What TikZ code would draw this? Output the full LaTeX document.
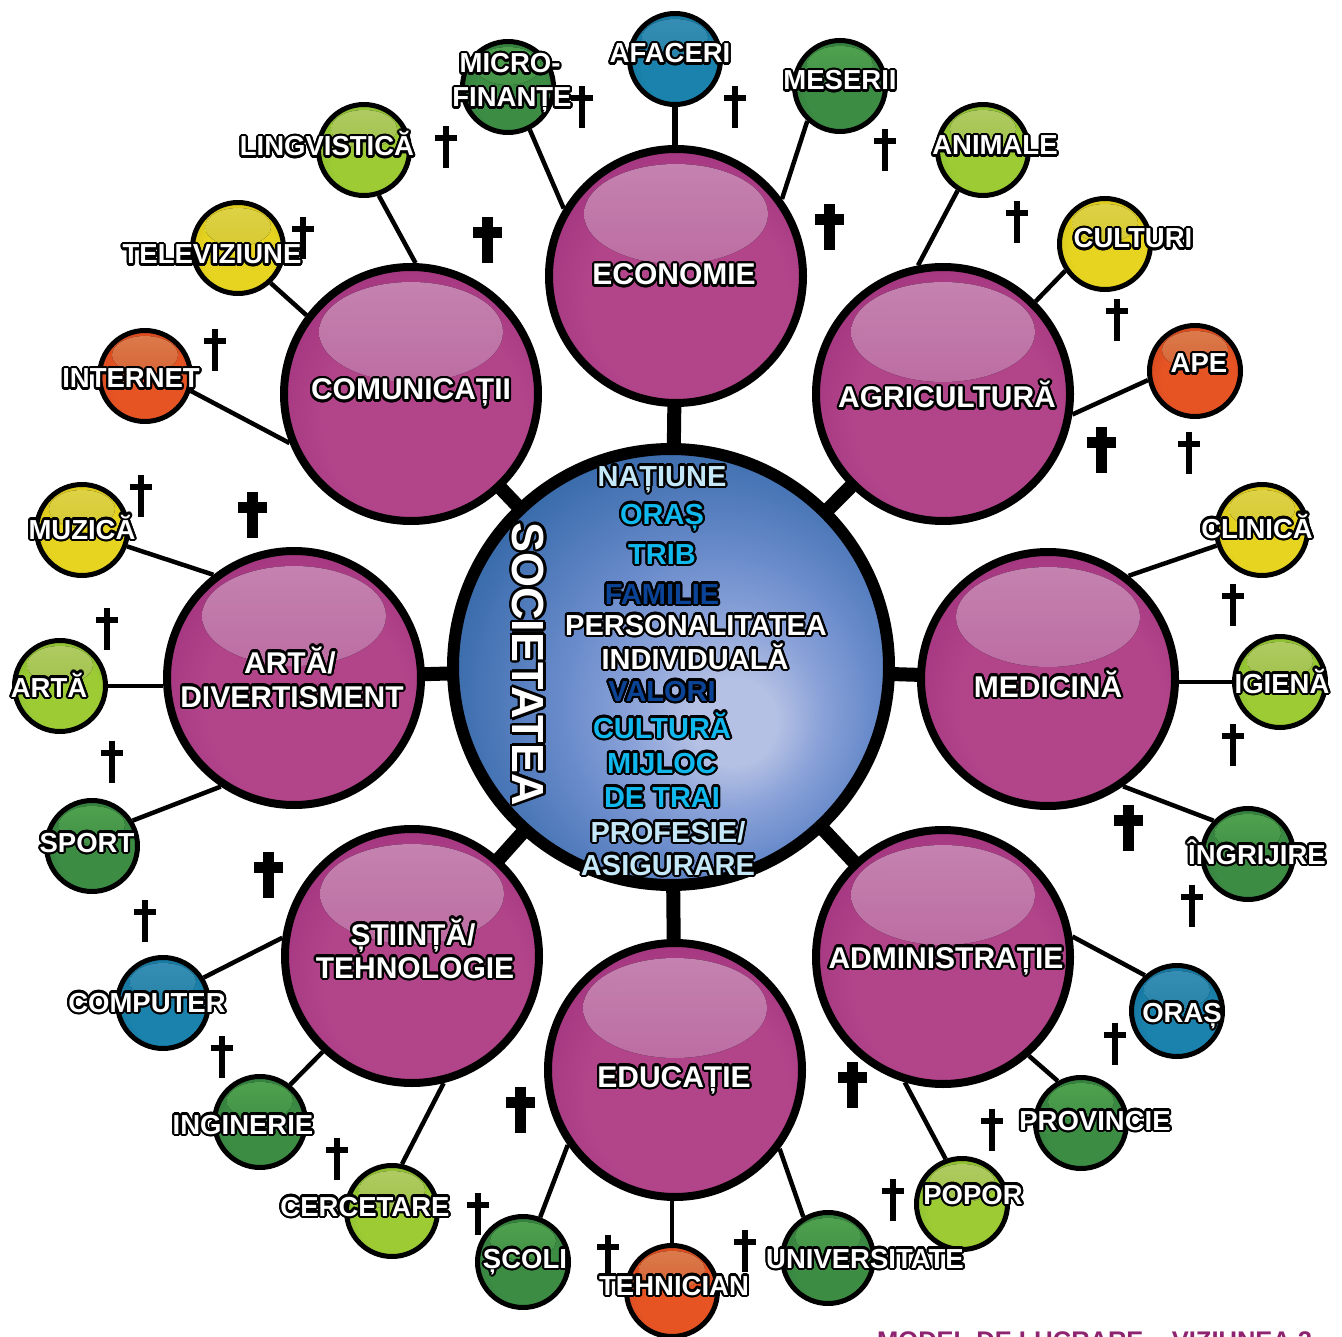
\documentclass[tikz,border=0pt]{standalone}
\usepackage{fontspec}
\setmainfont{Liberation Sans}
\usepackage[copies]{contour}
\contourlength{2.2pt}
\contournumber{20}
\usetikzlibrary{backgrounds}

\definecolor{pA}{HTML}{B2448A}
\definecolor{pB}{HTML}{982C78}
\definecolor{pC}{HTML}{6C1252}
\definecolor{pHi}{HTML}{DA94C4}
\definecolor{pLo}{HTML}{C2589E}
\definecolor{gA}{HTML}{3C8C44}
\definecolor{gB}{HTML}{2C7036}
\definecolor{gC}{HTML}{1C4C24}
\definecolor{gHi}{HTML}{58B458}
\definecolor{lA}{HTML}{9CCB34}
\definecolor{lB}{HTML}{7AB02E}
\definecolor{lC}{HTML}{3F8A2C}
\definecolor{lHi}{HTML}{C4E070}
\definecolor{yA}{HTML}{E6D420}
\definecolor{yB}{HTML}{D0BC18}
\definecolor{yC}{HTML}{8E7E10}
\definecolor{yHi}{HTML}{F4E850}
\definecolor{bA}{HTML}{1A82AC}
\definecolor{bB}{HTML}{146A90}
\definecolor{bC}{HTML}{0A3E5C}
\definecolor{bHi}{HTML}{3E9EC8}
\definecolor{rA}{HTML}{E65424}
\definecolor{rB}{HTML}{C8401A}
\definecolor{rC}{HTML}{7E2010}
\definecolor{rHi}{HTML}{F28A56}
\definecolor{hA}{HTML}{B4C0E4}
\definecolor{hB}{HTML}{8AA2D8}
\definecolor{hC}{HTML}{688ACA}
\definecolor{hD}{HTML}{4674B4}
\definecolor{hE}{HTML}{1C5692}
\definecolor{hF}{HTML}{0A3866}
\definecolor{cLb}{HTML}{C4E8F8}
\definecolor{cCy}{HTML}{10B8EE}
\definecolor{cDb}{HTML}{0B4496}
\definecolor{footc}{HTML}{8E2470}

\pgfdeclareradialshading{purpball}{\pgfpoint{4bp}{-8bp}}{color(0bp)=(pA); color(20bp)=(pA); color(36bp)=(pB); color(50bp)=(pC)}
\pgfdeclareradialshading{gball}{\pgfpoint{3bp}{-6bp}}{color(0bp)=(gA); color(20bp)=(gA); color(36bp)=(gB); color(50bp)=(gC)}
\pgfdeclareradialshading{lball}{\pgfpoint{3bp}{-6bp}}{color(0bp)=(lA); color(20bp)=(lA); color(36bp)=(lB); color(50bp)=(lC)}
\pgfdeclareradialshading{yball}{\pgfpoint{3bp}{-6bp}}{color(0bp)=(yA); color(20bp)=(yA); color(36bp)=(yB); color(50bp)=(yC)}
\pgfdeclareradialshading{bball}{\pgfpoint{3bp}{-6bp}}{color(0bp)=(bA); color(20bp)=(bA); color(36bp)=(bB); color(50bp)=(bC)}
\pgfdeclareradialshading{rball}{\pgfpoint{3bp}{-6bp}}{color(0bp)=(rA); color(20bp)=(rA); color(36bp)=(rB); color(50bp)=(rC)}
\pgfdeclareradialshading{hubball}{\pgfpoint{8bp}{-7bp}}{color(0bp)=(hA); color(5bp)=(hA); color(11bp)=(hB); color(18bp)=(hC); color(26bp)=(hD); color(36bp)=(hE); color(50bp)=(hF)}

\newcommand{\olt}[1]{\contour{black}{#1}}

\tikzset{
  hub/.style={circle, draw=black, line width=12pt, minimum size=436pt, inner sep=0pt, shading=hubball},
  sector/.style={circle, draw=black, line width=8pt, minimum size=254pt, inner sep=0pt, shading=purpball,
    path picture={\fill[top color=pHi, bottom color=pLo, fill opacity=.9] ([yshift=62pt]path picture bounding box.center) ellipse [x radius=92pt, y radius=50pt];}},
  leaf/.style={circle, draw=black, line width=5pt, minimum size=91pt, inner sep=0pt, shading=#1ball,
    path picture={\fill[top color=#1Hi, bottom color=#1A, fill opacity=.9] ([yshift=21pt]path picture bounding box.center) ellipse [x radius=33pt, y radius=19pt];}},
  bar/.style={line width=14pt, black},
  twig/.style={line width=4.5pt, black},
  leaflab/.style={anchor=base, text=white, inner sep=0pt, font=\fontsize{27.5}{30}\selectfont\bfseries},
  seclab/.style={anchor=base, text=white, inner sep=0pt, font=\fontsize{30}{31}\selectfont\bfseries},
  hublab/.style={anchor=base, text=#1, inner sep=0pt, font=\fontsize{29}{30}\selectfont\bfseries},
  sx/.pic={\fill[black] (-3,-21) rectangle (3,21); \fill[black] (-11,-12) rectangle (11,-6);},
  bx/.pic={\fill[black] (-5.5,-23) rectangle (5.5,23); \fill[black] (-14.5,-13) rectangle (14.5,-2);}
}

\begin{document}
\begin{tikzpicture}[x=1pt,y=-1pt]
\useasboundingbox (0,0) rectangle (1342,1337);

% central hub
\node[hub] (hub) at (671,667) {};

% sectors
\node[sector] (econ) at (676,276) {};
\node[sector] (agri) at (943,394) {};
\node[sector] (medi) at (1048,679) {};
\node[sector] (admi) at (943,957) {};
\node[sector] (educ) at (675,1070) {};
\node[sector] (stii) at (412,956) {};
\node[sector] (arta) at (294,678) {};
\node[sector] (comu) at (411,394) {};

% leaves
\node[leaf=g] (micro) at (508,87) {};
\node[leaf=b] (afac) at (675,59) {};
\node[leaf=g] (mese) at (840,86) {};
\node[leaf=l] (anim) at (983,150) {};
\node[leaf=y] (cult) at (1105,244) {};
\node[leaf=r] (ape) at (1195,371) {};
\node[leaf=y] (clin) at (1262,530) {};
\node[leaf=l] (igie) at (1280,682) {};
\node[leaf=g] (ingr) at (1248,854) {};
\node[leaf=b] (oras) at (1177,1011) {};
\node[leaf=g] (prov) at (1081,1123) {};
\node[leaf=l] (popo) at (962,1204) {};
\node[leaf=g] (univ) at (828,1258) {};
\node[leaf=r] (tehn) at (672,1291) {};
\node[leaf=g] (scol) at (523,1262) {};
\node[leaf=l] (cerc) at (392,1211) {};
\node[leaf=g] (ingi) at (260,1122) {};
\node[leaf=b] (comp) at (163,1003) {};
\node[leaf=g] (spor) at (92,846) {};
\node[leaf=l] (arts) at (60,686) {};
\node[leaf=y] (muzi) at (82,530) {};
\node[leaf=r] (inte) at (145,376) {};
\node[leaf=y] (tele) at (238,248) {};
\node[leaf=l] (ling) at (364,150) {};

% connectors
\begin{scope}[on background layer]
  \fill[white] (0,0) rectangle (1342,1337);
  \foreach \s in {econ,agri,medi,admi,educ,stii,arta,comu}
    \draw[bar] (hub.center) -- (\s.center);
  \draw[twig] (micro.-63) -- (econ.149);
  \draw[twig, line width=6pt] (afac.-90) -- (afac.-90 |- econ.north);
  \draw[twig] (mese.-133) -- (econ.36);
  \draw[twig] (anim.-122) -- (agri.101);
  \draw[twig] (cult.-146) -- (agri.45);
  \draw[twig] (ape.-169) -- (agri.-9);
  \draw[twig] (clin.-161) -- (medi.52);
  \draw[twig] (igie.west) -- (igie.west -| medi.east);
  \draw[twig] (ingr.136) -- (medi.-55);
  \draw[twig] (oras.132) -- (admi.9);
  \draw[twig] (prov.119) -- (admi.-49);
  \draw[twig] (popo.110) -- (admi.-107);
  \draw[twig] (univ.121) -- (educ.-37);
  \draw[twig] (tehn.north) -- (tehn.north |- educ.south);
  \draw[twig] (scol.69) -- (educ.-145);
  \draw[twig] (cerc.78) -- (stii.-76);
  \draw[twig] (ingi.51) -- (stii.-133);
  \draw[twig] (comp.32) -- (stii.172);
  \draw[twig] (muzi.-20) -- (arta.128);
  \draw[twig] (arts.east) -- (arts.east -| arta.west);
  \draw[twig] (spor.32) -- (arta.-124);
  \draw[twig] (ling.-72) -- (comu.88);
  \draw[twig] (tele.-47) -- (comu.143);
  \draw[twig] (inte.-18) -- (comu.-158);
\end{scope}

% crosses
\foreach \p in {(446,147),(303,238),(215,350),(582,107),(735,107),(885,150),(1017,222),(1117,320),(1189,453),(141,496),(107,629),(112,762),(1233,605),(1233,745),(1192,906),(145,921),(222,1057),(337,1159),(478,1214),(608,1256),(745,1251),(893,1200),(992,1130),(1115,1044)}
  \pic at \p {sx};
\foreach \p in {(487,240),(829,227),(1101,450),(252,515),(1128,828),(268,875),(520,1110),(852,1085)}
  \pic at \p {bx};

% hub labels
\node[hublab=cLb] (h1) at (662,486) {\olt{NAȚIUNE}};
\node[hublab=cCy] (h2) at (662,524) {\olt{ORAȘ}};
\node[hublab=cCy] (h3) at (662,564) {\olt{TRIB}};
\node[hublab=cDb] (h4) at (662,604) {\olt{FAMILIE}};
\node[hublab=white] (h5) at (696,635) {\olt{PERSONALITATEA}};
\node[hublab=white] (h6) at (695,669) {\olt{INDIVIDUALĂ}};
\node[hublab=cDb] (h7) at (662,701) {\olt{VALORI}};
\node[hublab=cCy] (h8) at (662,738) {\olt{CULTURĂ}};
\node[hublab=cCy] (h9) at (662,773) {\olt{MIJLOC}};
\node[hublab=cCy] (h10) at (662,807) {\olt{DE TRAI}};
\node[hublab=cLb] (h11) at (668,842) {\olt{PROFESIE/}};
\node[hublab=cLb] (h12) at (668,875) {\olt{ASIGURARE}};
\node[text=white, inner sep=0pt, rotate=-90, font=\fontsize{45}{46}\selectfont\bfseries] (soc) at (527,664) {\contourlength{2.6pt}\olt{SOCIETATEA}};

% sector labels
\node[seclab] (t-econ) at (674,285) {\olt{ECONOMIE}};
\node[seclab] (t-agri) at (947,408) {\olt{AGRICULTURĂ}};
\node[seclab] (t-medi) at (1048,697) {\olt{MEDICINĂ}};
\node[seclab] (t-admi) at (946,968) {\olt{ADMINISTRAȚIE}};
\node[seclab] (t-educ) at (674,1087) {\olt{EDUCAȚIE}};
\node[seclab] (t-stii1) at (413,945) {\olt{ȘTIINȚĂ/}};
\node[seclab] (t-stii2) at (415,978) {\olt{TEHNOLOGIE}};
\node[seclab] (t-arta1) at (290,673) {\olt{ARTĂ/}};
\node[seclab] (t-arta2) at (292,707) {\olt{DIVERTISMENT}};
\node[seclab] (t-comu) at (411,400) {\olt{COMUNICAȚII}};

% leaf labels
\node[leaflab] (t-micro1) at (510,73) {\olt{MICRO-}};
\node[leaflab] (t-micro2) at (512,107) {\olt{FINANȚE}};
\node[leaflab] (t-afac) at (670,63) {\olt{AFACERI}};
\node[leaflab] (t-mese) at (840,90) {\olt{MESERII}};
\node[leaflab] (t-anim) at (995,155) {\olt{ANIMALE}};
\node[leaflab] (t-cult) at (1133,248) {\olt{CULTURI}};
\node[leaflab] (t-ape) at (1199,373) {\olt{APE}};
\node[leaflab] (t-clin) at (1257,538) {\olt{CLINICĂ}};
\node[leaflab] (t-igie) at (1282,693) {\olt{IGIENĂ}};
\node[leaflab] (t-ingr) at (1257,864) {\olt{ÎNGRIJIRE}};
\node[leaflab] (t-oras) at (1182,1022) {\olt{ORAȘ}};
\node[leaflab] (t-prov) at (1095,1130) {\olt{PROVINCIE}};
\node[leaflab] (t-popo) at (973,1204) {\olt{POPOR}};
\node[leaflab] (t-univ) at (865,1268) {\olt{UNIVERSITATE}};
\node[leaflab] (t-tehn) at (674,1295) {\olt{TEHNICIAN}};
\node[leaflab] (t-scol) at (525,1268) {\olt{ȘCOLI}};
\node[leaflab] (t-cerc) at (365,1216) {\olt{CERCETARE}};
\node[leaflab] (t-ingi) at (243,1134) {\olt{INGINERIE}};
\node[leaflab] (t-comp) at (147,1012) {\olt{COMPUTER}};
\node[leaflab] (t-spor) at (87,852) {\olt{SPORT}};
\node[leaflab] (t-arts) at (49,697) {\olt{ARTĂ}};
\node[leaflab] (t-muzi) at (82,539) {\olt{MUZICĂ}};
\node[leaflab] (t-inte) at (131,388) {\olt{INTERNET}};
\node[leaflab] (t-tele) at (212,264) {\olt{TELEVIZIUNE}};
\node[leaflab] (t-ling) at (327,156) {\olt{LINGVISTICĂ}};

% footer (cut by the page edge)
\node[anchor=base west, text=footc, inner sep=0pt, font=\fontsize{25.5}{26}\selectfont\bfseries] (foot) at (877,1349) {MODEL DE LUCRARE – VIZIUNEA 2};
\end{tikzpicture}
\end{document}
